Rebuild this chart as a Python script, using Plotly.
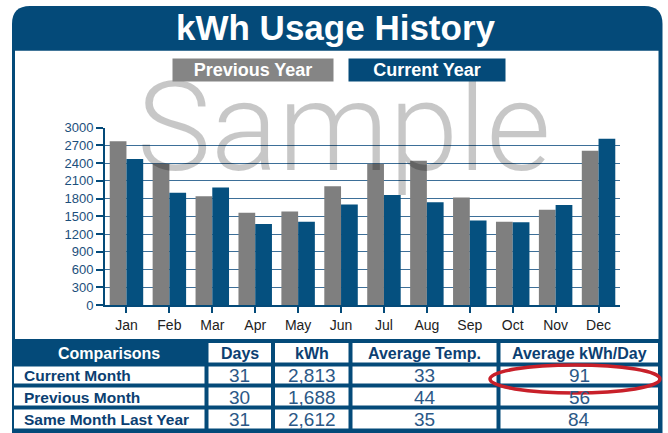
import plotly.graph_objects as go

# ---------------- data ----------------
months = ["Jan", "Feb", "Mar", "Apr", "May", "Jun",
          "Jul", "Aug", "Sep", "Oct", "Nov", "Dec"]
previous_year = [2770, 2390, 1840, 1560, 1580, 2010, 2390, 2440, 1820, 1410, 1610, 2612]
current_year = [2470, 1900, 1990, 1370, 1410, 1700, 1860, 1740, 1430, 1400, 1690, 2813]
y_tick_values = [0, 300, 600, 900, 1200, 1500, 1800, 2100, 2400, 2700, 3000]

comparison_headers = ["Comparisons", "Days", "kWh", "Average Temp.", "Average kWh/Day"]
comparison_rows = ["Current Month", "Previous Month", "Same Month Last Year"]
days = [31, 30, 31]
kwh = [2813, 1688, 2612]
avg_temp = [33, 44, 35]
avg_kwh_per_day = [91, 56, 84]

# ---------------- style ----------------
W, H = 668, 433


def px(x):
    return x / W


def py(y):
    return 1 - y / H


NAVY = "#044a79"
BAR_BLUE = "#05507f"
BAR_GRAY = "#7f7f7f"
LEGEND_GRAY = "#858585"
GRID = "#3d6f98"
TEXT_NAVY = "#0c3f72"
NUM_BLUE = "#2c5886"
CLEAR = "rgba(0,0,0,0)"
SANS = "Liberation Sans, Arial, sans-serif"

fig = go.Figure()
fig.add_trace(go.Bar(x=months, y=previous_year, name="Previous Year",
                     marker=dict(color=BAR_GRAY, line=dict(width=0))))
fig.add_trace(go.Bar(x=months, y=current_year, name="Current Year",
                     marker=dict(color=BAR_BLUE, line=dict(width=0))))

# ---------------- frame ----------------
r = 18
L, R, T, B = 12, 662.5, 6, 440
frame_path = (f"M {px(L)},{py(B)} L {px(L)},{py(T + r)} Q {px(L)},{py(T)} {px(L + r)},{py(T)} "
              f"L {px(R - r)},{py(T)} Q {px(R)},{py(T)} {px(R)},{py(T + r)} L {px(R)},{py(B)} Z")

shapes = [
    dict(type="path", path=frame_path, xref="paper", yref="paper",
         fillcolor=NAVY, line=dict(width=0), layer="below"),
    dict(type="rect", xref="paper", yref="paper", x0=px(15), x1=px(658.5), y0=py(50.7), y1=py(339),
         fillcolor="white", line=dict(width=0), layer="below"),
]

annotations = [
    dict(text="Sample", x=px(344), y=py(127.5), xref="paper", yref="paper",
         xanchor="center", yanchor="middle", showarrow=False,
         font=dict(family="Roboto, Liberation Sans, sans-serif", size=125, weight=300,
                   color="rgba(0,0,0,0.22)")),
    dict(text="<b>kWh Usage History</b>", x=px(336), y=py(28), xref="paper", yref="paper",
         xanchor="center", yanchor="middle", showarrow=False,
         font=dict(family=SANS, size=35, color="white")),
    dict(text="<b>Previous Year</b>", x=px(253.3), y=py(70), xref="paper", yref="paper",
         xanchor="center", yanchor="middle", showarrow=False,
         width=160, height=22, bgcolor=LEGEND_GRAY, borderpad=0,
         font=dict(family=SANS, size=18, color="white")),
    dict(text="<b>Current Year</b>", x=px(426.7), y=py(70), xref="paper", yref="paper",
         xanchor="center", yanchor="middle", showarrow=False,
         width=156, height=22, bgcolor=NAVY, borderpad=0,
         font=dict(family=SANS, size=18, color="white")),
]

# ---------------- comparison table (built from the arrays) ----------------
col_edges = [12, 206.5, 273, 350.5, 498.5, 660]      # border centre lines, px
row_edges = [341, 364.5, 385.5, 407.5, 430.5]        # border centre lines, px
half_border = 2

table_columns = [comparison_rows, days, [f"{v:,}" for v in kwh], avg_temp, avg_kwh_per_day]

# header row
for j, head in enumerate(comparison_headers):
    x0, x1 = col_edges[j] + half_border, col_edges[j + 1] - half_border
    y0, y1 = row_edges[0] + half_border, row_edges[1] - half_border
    if j > 0:
        shapes.append(dict(type="rect", xref="paper", yref="paper",
                           x0=px(x0), x1=px(x1), y0=py(y1), y1=py(y0),
                           fillcolor="white", line=dict(width=0), layer="below"))
    annotations.append(dict(text=f"<b>{head}</b>", x=px((x0 + x1) / 2), y=py((y0 + y1) / 2 + 0.5),
                            xref="paper", yref="paper", xanchor="center", yanchor="middle",
                            showarrow=False,
                            font=dict(family=SANS, size=16,
                                      color="white" if j == 0 else TEXT_NAVY)))

# body rows
for i in range(len(comparison_rows)):
    y0, y1 = row_edges[i + 1] + half_border, row_edges[i + 2] - half_border
    for j, column in enumerate(table_columns):
        x0, x1 = col_edges[j] + half_border, col_edges[j + 1] - half_border
        shapes.append(dict(type="rect", xref="paper", yref="paper",
                           x0=px(x0), x1=px(x1), y0=py(y1), y1=py(y0),
                           fillcolor="white", line=dict(width=0), layer="below"))
        if j == 0:
            annotations.append(dict(text=f"<b>{column[i]}</b>", x=px(x0 + 8), y=py((y0 + y1) / 2 + 0.5),
                                    xref="paper", yref="paper", xanchor="left", yanchor="middle",
                                    showarrow=False,
                                    font=dict(family=SANS, size=15.5, color=TEXT_NAVY)))
        else:
            annotations.append(dict(text=str(column[i]), x=px((x0 + x1) / 2), y=py((y0 + y1) / 2 + 0.5),
                                    xref="paper", yref="paper", xanchor="center", yanchor="middle",
                                    showarrow=False,
                                    font=dict(family=SANS, size=19, color=NUM_BLUE)))

# highlight ellipse around the current month's average kWh/day
shapes.append(dict(type="circle", xref="paper", yref="paper",
                   x0=px(490), x1=px(660), y0=py(393), y1=py(365),
                   line=dict(color="#c8202a", width=3.5), fillcolor=CLEAR, layer="above"))

fig.update_layout(
    width=W, height=H,
    margin=dict(l=0, r=0, t=0, b=0, pad=0, autoexpand=False),
    paper_bgcolor="white", plot_bgcolor=CLEAR,
    showlegend=False,
    barmode="group", bargap=0.22, bargroupgap=0,
    shapes=shapes, annotations=annotations,
    font=dict(family=SANS),
    xaxis=dict(domain=[px(105), px(620)], type="category", automargin=False,
               showline=True, linecolor=NAVY, linewidth=2,
               ticks="outside", ticklen=6, tickwidth=1.5, tickcolor=NAVY,
               tickfont=dict(family=SANS, size=14, color="#222222"),
               showgrid=False, fixedrange=True),
    yaxis=dict(domain=[py(305), py(127.7)], range=[0, 3000], automargin=False,
               tickmode="array", tickvals=y_tick_values,
               showline=True, linecolor=NAVY, linewidth=2,
               ticks="outside", ticklen=7, tickwidth=1.5, tickcolor=NAVY,
               tickfont=dict(family=SANS, size=13, color="#1c4f7c"),
               showgrid=True, gridcolor=GRID, gridwidth=1,
               zeroline=False, fixedrange=True),
)

fig.write_html("out.html", config={"displayModeBar": False},
               post_script="document.body.style.margin='0';document.body.style.overflow='hidden';")
